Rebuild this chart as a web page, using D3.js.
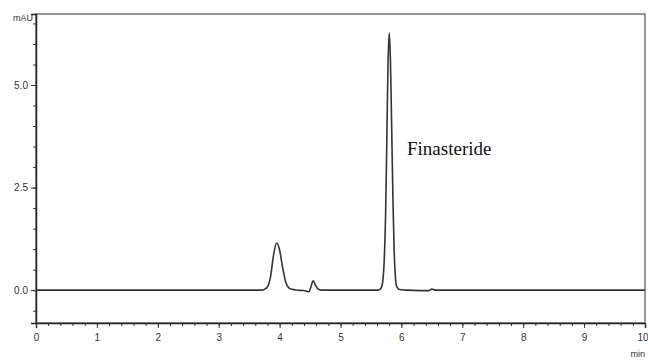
<!DOCTYPE html>
<html>
<head>
<meta charset="utf-8">
<script src="https://cdn.jsdelivr.net/npm/d3@7"></script>
<style>
  body { margin: 0; background: #fff; }
  svg { display: block; }
</style>
</head>
<body>
<div id="chart"></div>
<script>
// retention time (min) and absorbance (mAU)
const times = [0, 3.70, 3.75, 3.80, 3.85, 3.90, 3.95, 4.00, 4.05, 4.10, 4.15, 4.20, 4.30,
  4.40, 4.45, 4.48, 4.51, 4.55, 4.59, 4.63, 4.68, 4.75,
  5.62, 5.67, 5.70, 5.72, 5.74, 5.76, 5.78, 5.80, 5.82, 5.84, 5.86, 5.88, 5.90, 5.92, 5.95, 6.00, 6.10,
  6.30, 6.45, 6.50, 6.55, 10];
const signal = [0, 0, 0.02, 0.08, 0.32, 0.85, 1.15, 0.98, 0.55, 0.2, 0.06, 0.02, 0,
  -0.01, -0.03, -0.04, 0.06, 0.23, 0.12, 0.03, 0, 0,
  0, 0.06, 0.3, 0.8, 1.8, 3.6, 5.5, 6.27, 5.6, 4.0, 2.3, 1.0, 0.35, 0.1, 0.03, 0.01, 0,
  -0.01, -0.01, 0.03, 0, 0];

const xTicks = [0, 1, 2, 3, 4, 5, 6, 7, 8, 9, 10];
const yTicks = [0, 2.5, 5.0];
const peakLabel = "Finasteride";

const width = 648, height = 360;
const margin = { top: 14, right: 3, bottom: 37, left: 36 };

const svg = d3.select("#chart")
  .append("svg")
  .attr("width", width)
  .attr("height", height)
  .style("font-family", "Arial, 'Liberation Sans', sans-serif");

const x = d3.scaleLinear()
  .domain([0, 10])
  .range([margin.left, width - margin.right]);

const y = d3.scaleLinear()
  .domain([-0.8, 6.73])
  .range([height - margin.bottom, margin.top]);

// frame
svg.append("rect")
  .attr("x", margin.left)
  .attr("y", margin.top)
  .attr("width", width - margin.left - margin.right)
  .attr("height", height - margin.top - margin.bottom)
  .attr("fill", "none")
  .attr("stroke", "#555")
  .attr("stroke-width", 1.2);

// x axis: minor then major
svg.append("g")
  .attr("transform", `translate(0,${y(-0.8)})`)
  .call(d3.axisBottom(x).tickValues(d3.range(0, 10.01, 0.2)).tickSize(3).tickFormat(""))
  .call(g => g.select(".domain").remove());

svg.append("g")
  .attr("transform", `translate(0,${y(-0.8)})`)
  .call(d3.axisBottom(x).tickValues(xTicks).tickSize(5).tickFormat(d3.format("d")))
  .call(g => g.select(".domain").attr("stroke", "#222").attr("stroke-width", 1.5))
  .call(g => g.selectAll("text").attr("font-size", 10).attr("fill", "#333").attr("dy", "1em"))
  .call(g => g.selectAll("text").filter(d => d === 10).attr("text-anchor", "end").attr("dx", 3));

// y axis
svg.append("g")
  .attr("transform", `translate(${margin.left},0)`)
  .call(d3.axisLeft(y).tickValues(d3.range(-0.5, 6.6, 0.5)).tickSize(3).tickFormat(""))
  .call(g => g.select(".domain").remove());

svg.append("g")
  .attr("transform", `translate(${margin.left},0)`)
  .call(d3.axisLeft(y).tickValues(yTicks).tickSize(5).tickFormat(d3.format(".1f")))
  .call(g => g.select(".domain").attr("stroke", "#222").attr("stroke-width", 1.5))
  .call(g => g.selectAll("text").attr("font-size", 10).attr("fill", "#333"));

svg.selectAll(".tick line").attr("stroke", "#333");

svg.append("text")
  .attr("x", 33)
  .attr("y", 21)
  .attr("text-anchor", "end")
  .attr("font-size", 9)
  .attr("fill", "#333")
  .text("mAU");

svg.append("text")
  .attr("x", 645)
  .attr("y", 357)
  .attr("text-anchor", "end")
  .attr("font-size", 9)
  .attr("fill", "#333")
  .text("min");

// chromatogram trace
const data = times.map((t, i) => ({ t, v: signal[i] }));

svg.append("path")
  .datum(data)
  .attr("fill", "none")
  .attr("stroke", "#333")
  .attr("stroke-width", 1.6)
  .attr("d", d3.line().x(d => x(d.t)).y(d => y(d.v)).curve(d3.curveMonotoneX));

svg.append("text")
  .attr("x", 407)
  .attr("y", 155)
  .attr("font-family", "'Liberation Serif', 'Times New Roman', serif")
  .attr("font-size", 19)
  .attr("fill", "#111")
  .text(peakLabel);
</script>
</body>
</html>
